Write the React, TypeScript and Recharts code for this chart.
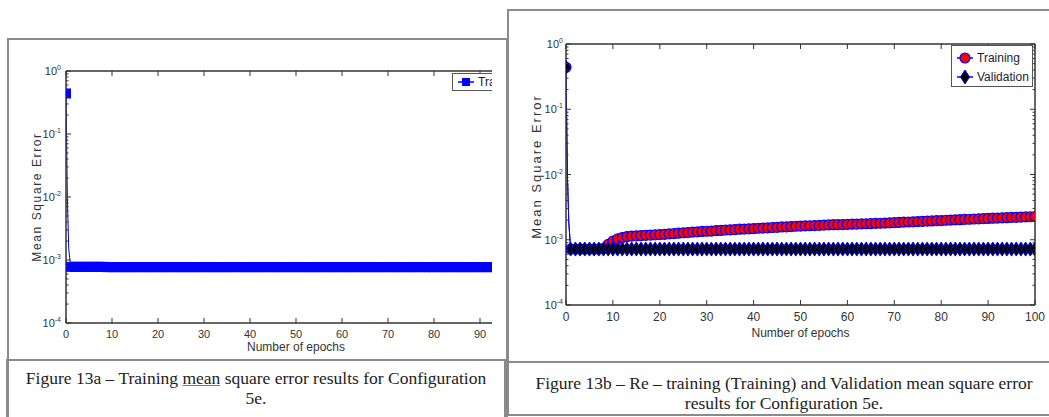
import { Label, Legend, Line, LineChart, XAxis, YAxis } from "recharts";

const SERIES_BLUE = "#0000ff";
const MARKER_RED = "#ff0000";
const AXIS_INK = "#333333";
const FRAME_GREY = "#8a8a8a";
const SANS = "'Liberation Sans', Arial, sans-serif";
const SERIF = "'Liberation Serif', 'Times New Roman', serif";

// epoch axis: two sub-epoch samples during the initial drop, then whole epochs
const epochs = [
  0, 0.3, 0.6,
  1, 2, 3, 4, 5, 6, 7, 8, 9, 10,
  11, 12, 13, 14, 15, 16, 17, 18, 19, 20,
  21, 22, 23, 24, 25, 26, 27, 28, 29, 30,
  31, 32, 33, 34, 35, 36, 37, 38, 39, 40,
  41, 42, 43, 44, 45, 46, 47, 48, 49, 50,
  51, 52, 53, 54, 55, 56, 57, 58, 59, 60,
  61, 62, 63, 64, 65, 66, 67, 68, 69, 70,
  71, 72, 73, 74, 75, 76, 77, 78, 79, 80,
  81, 82, 83, 84, 85, 86, 87, 88, 89, 90,
  91, 92, 93, 94, 95, 96, 97, 98, 99, 100,
];

// Figure 13a – training MSE
const trainA = [
  0.44, 0.0095, 0.0015,
  7.8e-4, 7.8e-4, 7.8e-4, 7.8e-4, 7.8e-4, 7.8e-4, 7.8e-4, 7.8e-4, 7.7e-4, 7.7e-4,
  7.7e-4, 7.7e-4, 7.7e-4, 7.7e-4, 7.7e-4, 7.7e-4, 7.7e-4, 7.7e-4, 7.7e-4, 7.7e-4,
  7.7e-4, 7.7e-4, 7.7e-4, 7.7e-4, 7.7e-4, 7.7e-4, 7.7e-4, 7.7e-4, 7.7e-4, 7.7e-4,
  7.7e-4, 7.7e-4, 7.7e-4, 7.7e-4, 7.7e-4, 7.7e-4, 7.7e-4, 7.7e-4, 7.7e-4, 7.7e-4,
  7.7e-4, 7.7e-4, 7.7e-4, 7.7e-4, 7.7e-4, 7.7e-4, 7.7e-4, 7.7e-4, 7.7e-4, 7.7e-4,
  7.7e-4, 7.7e-4, 7.7e-4, 7.7e-4, 7.7e-4, 7.7e-4, 7.7e-4, 7.7e-4, 7.7e-4, 7.7e-4,
  7.7e-4, 7.7e-4, 7.7e-4, 7.7e-4, 7.7e-4, 7.7e-4, 7.7e-4, 7.7e-4, 7.7e-4, 7.7e-4,
  7.7e-4, 7.7e-4, 7.7e-4, 7.7e-4, 7.7e-4, 7.7e-4, 7.7e-4, 7.7e-4, 7.7e-4, 7.7e-4,
  7.7e-4, 7.7e-4, 7.7e-4, 7.7e-4, 7.7e-4, 7.7e-4, 7.7e-4, 7.7e-4, 7.7e-4, 7.7e-4,
  7.7e-4, 7.7e-4, 7.7e-4, 7.7e-4, 7.7e-4, 7.7e-4, 7.7e-4, 7.7e-4, 7.7e-4, 7.7e-4,
];

// Figure 13b – re-training (Training) MSE
const trainB = [
  0.44, 0.01, 0.0018,
  7.2e-4, 7.2e-4, 7.2e-4, 7.2e-4, 7.2e-4, 7.2e-4, 7.2e-4, 7.4e-4, 8.5e-4, 9.5e-4,
  1.03e-3, 1.08e-3, 1.12e-3, 1.14e-3, 1.15e-3, 1.16e-3, 1.17e-3, 1.18e-3, 1.19e-3, 1.2e-3,
  1.21e-3, 1.23e-3, 1.24e-3, 1.26e-3, 1.28e-3, 1.29e-3, 1.31e-3, 1.32e-3, 1.34e-3, 1.35e-3,
  1.36e-3, 1.38e-3, 1.39e-3, 1.41e-3, 1.42e-3, 1.43e-3, 1.45e-3, 1.46e-3, 1.47e-3, 1.48e-3,
  1.5e-3, 1.51e-3, 1.52e-3, 1.54e-3, 1.55e-3, 1.57e-3, 1.58e-3, 1.59e-3, 1.61e-3, 1.62e-3,
  1.63e-3, 1.64e-3, 1.65e-3, 1.66e-3, 1.68e-3, 1.69e-3, 1.7e-3, 1.7e-3, 1.71e-3, 1.72e-3,
  1.73e-3, 1.74e-3, 1.75e-3, 1.76e-3, 1.77e-3, 1.78e-3, 1.79e-3, 1.8e-3, 1.82e-3, 1.83e-3,
  1.84e-3, 1.86e-3, 1.87e-3, 1.88e-3, 1.9e-3, 1.91e-3, 1.93e-3, 1.94e-3, 1.96e-3, 1.97e-3,
  1.99e-3, 2.0e-3, 2.02e-3, 2.03e-3, 2.05e-3, 2.06e-3, 2.08e-3, 2.09e-3, 2.11e-3, 2.12e-3,
  2.14e-3, 2.15e-3, 2.17e-3, 2.18e-3, 2.2e-3, 2.21e-3, 2.22e-3, 2.24e-3, 2.25e-3, 2.27e-3,
];

// Figure 13b – validation MSE
const validB = [
  0.44, 0.01, 0.0018,
  7.2e-4, 7.2e-4, 7.2e-4, 7.2e-4, 7.2e-4, 7.2e-4, 7.2e-4, 7.2e-4, 7.2e-4, 7.2e-4,
  7.2e-4, 7.2e-4, 7.2e-4, 7.2e-4, 7.2e-4, 7.2e-4, 7.2e-4, 7.2e-4, 7.2e-4, 7.2e-4,
  7.2e-4, 7.2e-4, 7.2e-4, 7.2e-4, 7.2e-4, 7.2e-4, 7.2e-4, 7.2e-4, 7.2e-4, 7.2e-4,
  7.2e-4, 7.2e-4, 7.2e-4, 7.2e-4, 7.2e-4, 7.2e-4, 7.2e-4, 7.2e-4, 7.2e-4, 7.2e-4,
  7.2e-4, 7.2e-4, 7.2e-4, 7.2e-4, 7.2e-4, 7.2e-4, 7.2e-4, 7.2e-4, 7.2e-4, 7.2e-4,
  7.2e-4, 7.2e-4, 7.2e-4, 7.2e-4, 7.2e-4, 7.2e-4, 7.2e-4, 7.2e-4, 7.2e-4, 7.2e-4,
  7.2e-4, 7.2e-4, 7.2e-4, 7.2e-4, 7.2e-4, 7.2e-4, 7.2e-4, 7.2e-4, 7.2e-4, 7.2e-4,
  7.2e-4, 7.2e-4, 7.2e-4, 7.2e-4, 7.2e-4, 7.2e-4, 7.2e-4, 7.2e-4, 7.2e-4, 7.2e-4,
  7.2e-4, 7.2e-4, 7.2e-4, 7.2e-4, 7.2e-4, 7.2e-4, 7.2e-4, 7.2e-4, 7.2e-4, 7.2e-4,
  7.2e-4, 7.2e-4, 7.2e-4, 7.2e-4, 7.2e-4, 7.2e-4, 7.2e-4, 7.2e-4, 7.2e-4, 7.2e-4,
];

// 13a is cropped at ~92 epochs in the source, so its last visible tick is 90
const epochTicksA = [0, 10, 20, 30, 40, 50, 60, 70, 80, 90];
const epochTicksB = [0, 10, 20, 30, 40, 50, 60, 70, 80, 90, 100];
const decades = [1e-4, 1e-3, 1e-2, 1e-1, 1];
const minorSteps = [2, 3, 4, 5, 6, 7, 8, 9];
const logTicks = decades.flatMap((d) => (d === 1 ? [d] : [d, ...minorSteps.map((m) => d * m)]));

const dataA = epochs.map((epoch, i) => ({ epoch, train: trainA[i] }));
const dataB = epochs.map((epoch, i) => ({ epoch, train: trainB[i], valid: validB[i] }));

/* ---------- ticks (matlab style: pointing inward) ---------- */

function logTick(side: "left" | "right", gap: number) {
  return (props: any) => {
    const { x, y, payload } = props;
    const v = payload.value;
    const major = decades.includes(v);
    const dir = side === "left" ? 1 : -1;
    const exp = Math.round(Math.log10(v));
    return (
      <g>
        <line x1={x} y1={y} x2={x + dir * (major ? 5 : 2.5)} y2={y} stroke={AXIS_INK} strokeWidth={1} />
        {side === "left" && major && (
          <text x={x - gap} y={y + 4} textAnchor="end" fontFamily={SANS} fontSize={11} fill={AXIS_INK}>
            10
            <tspan dy={-5} fontSize={7}>
              {exp}
            </tspan>
          </text>
        )}
      </g>
    );
  };
}

function epochTick(side: "bottom" | "top", fontSize: number, labelDy: number) {
  return (props: any) => {
    const { x, y, payload } = props;
    const dir = side === "bottom" ? -1 : 1;
    return (
      <g>
        <line x1={x} y1={y} x2={x} y2={y + dir * 5} stroke={AXIS_INK} strokeWidth={1} />
        {side === "bottom" && (
          <text x={x} y={y + labelDy} textAnchor="middle" fontFamily={SANS} fontSize={fontSize} fill={AXIS_INK}>
            {payload.value}
          </text>
        )}
      </g>
    );
  };
}

/* ---------- markers ---------- */

const squareDot = (p: any) => {
  if (!Number.isInteger(p.payload.epoch)) return <g key={p.index} />;
  return (
    <rect key={p.index} x={p.cx - 4.5} y={p.cy - 4.5} width={9} height={9} fill={SERIES_BLUE} stroke={SERIES_BLUE} />
  );
};

const circleDot = (p: any) => {
  if (!Number.isInteger(p.payload.epoch)) return <g key={p.index} />;
  return <circle key={p.index} cx={p.cx} cy={p.cy} r={5} fill={MARKER_RED} stroke={SERIES_BLUE} strokeWidth={1.2} />;
};

const diamondDot = (p: any) => {
  if (!Number.isInteger(p.payload.epoch)) return <g key={p.index} />;
  const { cx, cy } = p;
  return (
    <polygon
      key={p.index}
      points={`${cx},${cy - 7} ${cx + 4.5},${cy} ${cx},${cy + 7} ${cx - 4.5},${cy}`}
      fill="#000000"
      stroke={SERIES_BLUE}
      strokeWidth={1}
    />
  );
};

/* ---------- labels & legend ---------- */

function yTitle(dy: number, fontSize: number, spacing: number) {
  return (props: any) => {
    const vb = props.viewBox;
    const x = vb.x + 25;
    const y = vb.y + vb.height / 2 + dy;
    return (
      <text
        x={x}
        y={y}
        transform={`rotate(-90, ${x}, ${y})`}
        textAnchor="middle"
        fontFamily={SANS}
        fontSize={fontSize}
        letterSpacing={spacing}
        fill={AXIS_INK}
      >
        Mean Square Error
      </text>
    );
  };
}

function xTitle(dy: number) {
  return (props: any) => {
    const vb = props.viewBox;
    return (
      <text x={vb.x + vb.width / 2} y={vb.y + dy} textAnchor="middle" fontFamily={SANS} fontSize={12} fill={AXIS_INK}>
        Number of epochs
      </text>
    );
  };
}

function LegendRow({ marker, label }: { marker: "square" | "circle" | "diamond"; label: string }) {
  return (
    <div style={{ display: "flex", alignItems: "center", height: 19 }}>
      <svg width={18} height={16} style={{ display: "block" }}>
        <line x1={1} y1={8} x2={17} y2={8} stroke={SERIES_BLUE} strokeWidth={1.5} />
        {marker === "square" && <rect x={5} y={4} width={8} height={8} fill={SERIES_BLUE} />}
        {marker === "circle" && <circle cx={9} cy={8} r={5} fill={MARKER_RED} stroke={SERIES_BLUE} strokeWidth={1.2} />}
        {marker === "diamond" && <polygon points="9,1 13.5,8 9,15 4.5,8" fill="#000" stroke={SERIES_BLUE} />}
      </svg>
      <span style={{ marginLeft: 3, fontFamily: SANS, fontSize: 12, color: "#1c1c2c", whiteSpace: "nowrap" }}>
        {label}
      </span>
    </div>
  );
}

const axisLine = { stroke: AXIS_INK, strokeWidth: 1.5 };

function Figure13a() {
  return (
    <div style={{ position: "absolute", left: 0, top: 0, width: 492, height: 360, overflow: "hidden" }}>
      <LineChart width={560} height={360} data={dataA} margin={{ top: 70, right: 33, bottom: 5, left: 16 }}>
        <XAxis
          dataKey="epoch"
          type="number"
          domain={[0, 100]}
          allowDataOverflow
          ticks={epochTicksA}
          interval={0}
          height={32}
          tickSize={0}
          tickMargin={0}
          tickLine={false}
          axisLine={axisLine}
          tick={epochTick("bottom", 11, 14.5)}
          label={<Label content={xTitle(28)} />}
        />
        <XAxis
          xAxisId="top"
          orientation="top"
          dataKey="epoch"
          type="number"
          domain={[0, 100]}
          allowDataOverflow
          ticks={epochTicksA}
          interval={0}
          height={1}
          tickSize={0}
          tickMargin={0}
          tickLine={false}
          axisLine={axisLine}
          tick={epochTick("top", 11, 0)}
        />
        <YAxis
          type="number"
          scale="log"
          domain={[1e-4, 1]}
          allowDataOverflow
          ticks={logTicks}
          interval={0}
          width={50}
          tickSize={0}
          tickMargin={0}
          tickLine={false}
          axisLine={axisLine}
          tick={logTick("left", 5)}
          label={<Label content={yTitle(0, 12, 1.6)} />}
        />
        <YAxis
          yAxisId="right"
          orientation="right"
          type="number"
          scale="log"
          domain={[1e-4, 1]}
          allowDataOverflow
          ticks={logTicks}
          interval={0}
          width={1}
          tickSize={0}
          tickMargin={0}
          tickLine={false}
          axisLine={axisLine}
          tick={logTick("right", 0)}
        />
        <Line
          type="linear"
          dataKey="train"
          stroke={SERIES_BLUE}
          strokeWidth={1}
          dot={squareDot}
          activeDot={false}
          isAnimationActive={false}
        />
        <Line
          xAxisId="top"
          yAxisId="right"
          dataKey="train"
          stroke="none"
          dot={false}
          activeDot={false}
          legendType="none"
          isAnimationActive={false}
        />
        <Legend
          layout="horizontal"
          align="center"
          verticalAlign="middle"
          wrapperStyle={{ left: 452, top: 73, width: 110 }}
          content={() => (
            <div
              style={{
                border: "1.5px solid #555",
                background: "#fff",
                width: 100,
                height: 18,
                boxSizing: "border-box",
                padding: "0 0 0 4px",
                display: "flex",
                alignItems: "center",
              }}
            >
              <LegendRow marker="square" label="Training" />
            </div>
          )}
        />
      </LineChart>
    </div>
  );
}

function Figure13b() {
  return (
    <div style={{ position: "absolute", left: 508, top: 10, width: 541, height: 350 }}>
      <LineChart width={541} height={350} data={dataB} margin={{ top: 33, right: 13, bottom: 23, left: 8 }}>
        <XAxis
          dataKey="epoch"
          type="number"
          domain={[0, 100]}
          allowDataOverflow
          ticks={epochTicksB}
          interval={0}
          height={32}
          tickSize={0}
          tickMargin={0}
          tickLine={false}
          axisLine={axisLine}
          tick={epochTick("bottom", 12, 16)}
          label={<Label content={xTitle(32)} />}
        />
        <XAxis
          xAxisId="top"
          orientation="top"
          dataKey="epoch"
          type="number"
          domain={[0, 100]}
          allowDataOverflow
          ticks={epochTicksB}
          interval={0}
          height={1}
          tickSize={0}
          tickMargin={0}
          tickLine={false}
          axisLine={axisLine}
          tick={epochTick("top", 12, 0)}
        />
        <YAxis
          type="number"
          scale="log"
          domain={[1e-4, 1]}
          allowDataOverflow
          ticks={logTicks}
          interval={0}
          width={50}
          tickSize={0}
          tickMargin={0}
          tickLine={false}
          axisLine={axisLine}
          tick={logTick("left", 3)}
          label={<Label content={yTitle(-8, 13, 2)} />}
        />
        <YAxis
          yAxisId="right"
          orientation="right"
          type="number"
          scale="log"
          domain={[1e-4, 1]}
          allowDataOverflow
          ticks={logTicks}
          interval={0}
          width={1}
          tickSize={0}
          tickMargin={0}
          tickLine={false}
          axisLine={axisLine}
          tick={logTick("right", 0)}
        />
        <Line
          type="linear"
          dataKey="train"
          stroke={SERIES_BLUE}
          strokeWidth={1}
          dot={circleDot}
          activeDot={false}
          isAnimationActive={false}
        />
        <Line
          type="linear"
          dataKey="valid"
          stroke={SERIES_BLUE}
          strokeWidth={1}
          dot={diamondDot}
          activeDot={false}
          isAnimationActive={false}
        />
        <Line
          xAxisId="top"
          yAxisId="right"
          dataKey="valid"
          stroke="none"
          dot={false}
          activeDot={false}
          legendType="none"
          isAnimationActive={false}
        />
        <Legend
          layout="horizontal"
          align="center"
          verticalAlign="middle"
          wrapperStyle={{ left: 443, top: 35, width: 82 }}
          content={() => (
            <div
              style={{
                border: "1.5px solid #555",
                background: "#fff",
                width: 82,
                height: 42,
                boxSizing: "border-box",
                padding: "2px 0 0 4px",
              }}
            >
              <LegendRow marker="circle" label="Training" />
              <LegendRow marker="diamond" label="Validation" />
            </div>
          )}
        />
      </LineChart>
    </div>
  );
}

export default function App() {
  const captionStyle = {
    position: "absolute" as const,
    textAlign: "center" as const,
    fontFamily: SERIF,
    color: "#222",
    lineHeight: "20px",
    fontSize: 17.5,
    whiteSpace: "nowrap" as const,
  };
  return (
    <div
      style={{
        position: "absolute",
        left: 0,
        top: 0,
        width: 1049,
        height: 417,
        background: "#fff",
        overflow: "hidden",
      }}
    >
      {/* panel frames */}
      <div
        style={{
          position: "absolute",
          left: 7,
          top: 38,
          width: 501,
          height: 400,
          boxSizing: "border-box",
          border: `2px solid ${FRAME_GREY}`,
        }}
      />
      <div
        style={{
          position: "absolute",
          left: 6,
          top: 359,
          width: 500,
          height: 80,
          boxSizing: "border-box",
          border: `2px solid ${FRAME_GREY}`,
        }}
      />
      <div
        style={{
          position: "absolute",
          left: 507,
          top: 9,
          width: 560,
          height: 407,
          boxSizing: "border-box",
          border: `2px solid ${FRAME_GREY}`,
        }}
      />
      <div style={{ position: "absolute", left: 507, top: 361, width: 560, height: 2, background: FRAME_GREY }} />

      <Figure13a />
      <Figure13b />

      <div style={{ ...captionStyle, left: 7, top: 368, width: 498 }}>
        Figure 13a – Training{" "}
        <span style={{ textDecoration: "underline", textDecorationColor: "#4f7fd6" }}>mean</span> square error
        results for Configuration
        <br />
        5e.
      </div>
      <div style={{ ...captionStyle, left: 508, top: 373, width: 552 }}>
        Figure 13b – Re – training (Training) and Validation mean square error
        <br />
        results for Configuration 5e.
      </div>
    </div>
  );
}
